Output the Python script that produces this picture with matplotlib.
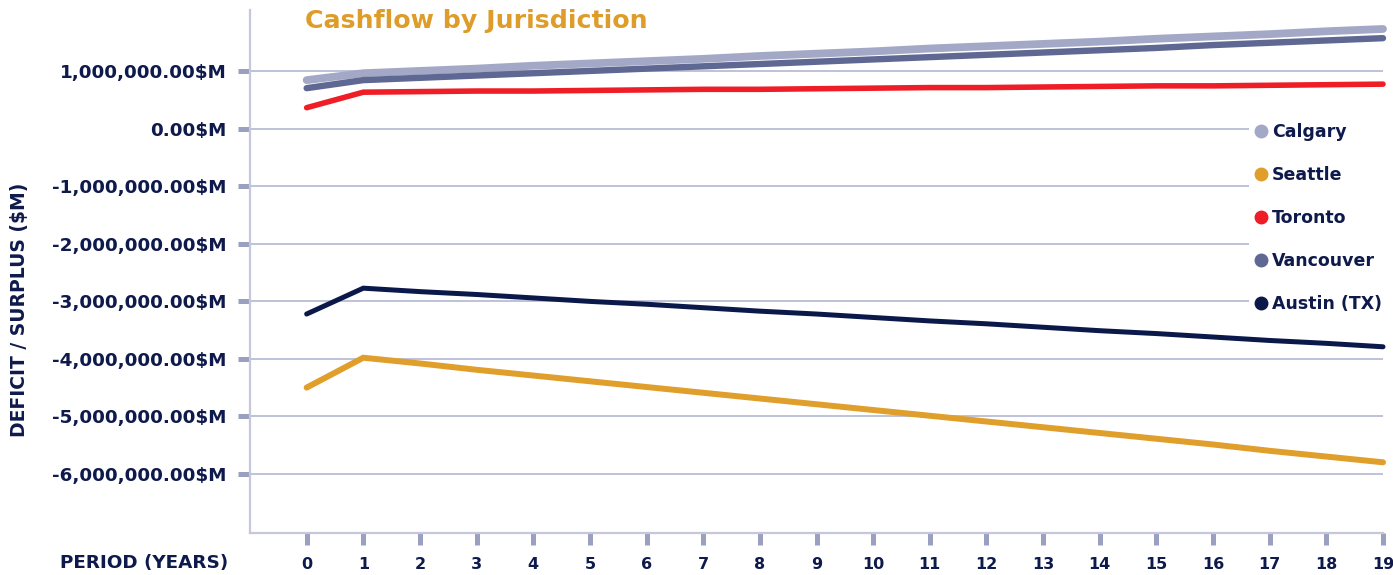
import matplotlib
import matplotlib.pyplot as plt
from matplotlib.ticker import FuncFormatter

matplotlib.use('Agg')
plt.rcParams['font.family'] = ['DejaVu Sans']
plt.rcParams['font.weight'] = 'bold'

NAVY = '#0e1a4b'
TICK = '#9ba0c1'
GRID = '#b3b7d2'

years = list(range(20))

calgary = [850_000, 970_000, 1_010_000, 1_050_000, 1_100_000, 1_140_000, 1_180_000,
           1_220_000, 1_270_000, 1_310_000, 1_350_000, 1_400_000, 1_440_000, 1_480_000,
           1_520_000, 1_570_000, 1_610_000, 1_650_000, 1_700_000, 1_740_000]
seattle = [-4_500_000, -3_980_000, -4_080_000, -4_190_000, -4_290_000, -4_390_000,
           -4_490_000, -4_590_000, -4_690_000, -4_790_000, -4_890_000, -4_990_000,
           -5_090_000, -5_190_000, -5_290_000, -5_390_000, -5_490_000, -5_600_000,
           -5_700_000, -5_800_000]
toronto = [370_000, 640_000, 650_000, 660_000, 660_000, 670_000, 680_000, 690_000,
           690_000, 700_000, 710_000, 720_000, 720_000, 730_000, 740_000, 750_000,
           750_000, 760_000, 770_000, 780_000]
vancouver = [710_000, 850_000, 890_000, 930_000, 970_000, 1_010_000, 1_050_000,
             1_090_000, 1_130_000, 1_170_000, 1_210_000, 1_250_000, 1_290_000,
             1_330_000, 1_370_000, 1_410_000, 1_460_000, 1_500_000, 1_540_000, 1_580_000]
austin = [-3_220_000, -2_770_000, -2_830_000, -2_880_000, -2_940_000, -3_000_000,
          -3_050_000, -3_110_000, -3_170_000, -3_220_000, -3_280_000, -3_340_000,
          -3_390_000, -3_450_000, -3_510_000, -3_560_000, -3_620_000, -3_680_000,
          -3_730_000, -3_790_000]

y_ticks = [1_000_000, 0, -1_000_000, -2_000_000, -3_000_000, -4_000_000,
           -5_000_000, -6_000_000]

series = [
    ('Calgary', calgary, '#a3a8c6', 5.6),
    ('Seattle', seattle, '#e09e2a', 4.3),
    ('Toronto', toronto, '#ee1d26', 4.0),
    ('Vancouver', vancouver, '#5f6892', 4.6),
    ('Austin (TX)', austin, '#0b184a', 3.6),
]

fig = plt.figure(figsize=(13.93, 5.75), dpi=100)
ax = fig.add_axes([250 / 1393, 42 / 575, 1133 / 1393, 523 / 575])

for name, values, color, lw in series:
    ax.plot(years, values, color=color, lw=lw, label=name,
            solid_capstyle='round', solid_joinstyle='miter', zorder=3,
            clip_on=False)

ax.set_xlim(-1, 19)
ax.set_ylim(-7_030_000, 2_070_000)
ax.set_xticks(years)
ax.set_yticks(y_ticks)
ax.yaxis.set_major_formatter(FuncFormatter(lambda v, _: f'{v:,.2f}$M'))

ax.grid(axis='y', color=GRID, lw=1.2, zorder=1)
ax.grid(axis='x', visible=False)

for side in ('top', 'right'):
    ax.spines[side].set_visible(False)
for side in ('left', 'bottom'):
    ax.spines[side].set_color('#c5c8dc')
    ax.spines[side].set_linewidth(1.6)

ax.tick_params(axis='y', length=8.5, width=3.6, color=TICK, pad=8.5,
               labelsize=13.2, labelcolor=NAVY)
ax.tick_params(axis='x', length=8.5, width=3.6, color=TICK, pad=9,
               labelsize=11.5, labelcolor=NAVY)
for lbl in ax.get_xticklabels() + ax.get_yticklabels():
    lbl.set_fontweight('bold')

fig.text(228 / 1393, 1 - 563 / 575, 'PERIOD (YEARS)', ha='right', va='center',
         fontsize=13.2, fontweight='bold', color=NAVY)
fig.text(20 / 1393, 1 - 310 / 575, 'DEFICIT / SURPLUS ($M)', rotation=90,
         ha='center', va='center', fontsize=13.5, fontweight='bold', color=NAVY)
fig.text(305 / 1393, 1 - 21 / 575, 'Cashflow by Jurisdiction', ha='left',
         va='center', fontsize=18.2, fontweight='bold', color='#de9c2a')

handles = [plt.Line2D([], [], ls='none', marker='o', ms=9, color=c)
           for _, _, c, _ in series]
leg = fig.legend(handles, [s[0] for s in series], loc='upper left',
                 bbox_to_anchor=(1240 / 1393, 1 - 107 / 575), frameon=True,
                 facecolor='white', edgecolor='none', framealpha=1,
                 handlelength=0.6, handletextpad=0.35, labelspacing=1.45,
                 borderpad=0.4, prop={'size': 12.5, 'weight': 'bold'})
for text in leg.get_texts():
    text.set_color(NAVY)

fig.savefig('out.png', dpi=100)
